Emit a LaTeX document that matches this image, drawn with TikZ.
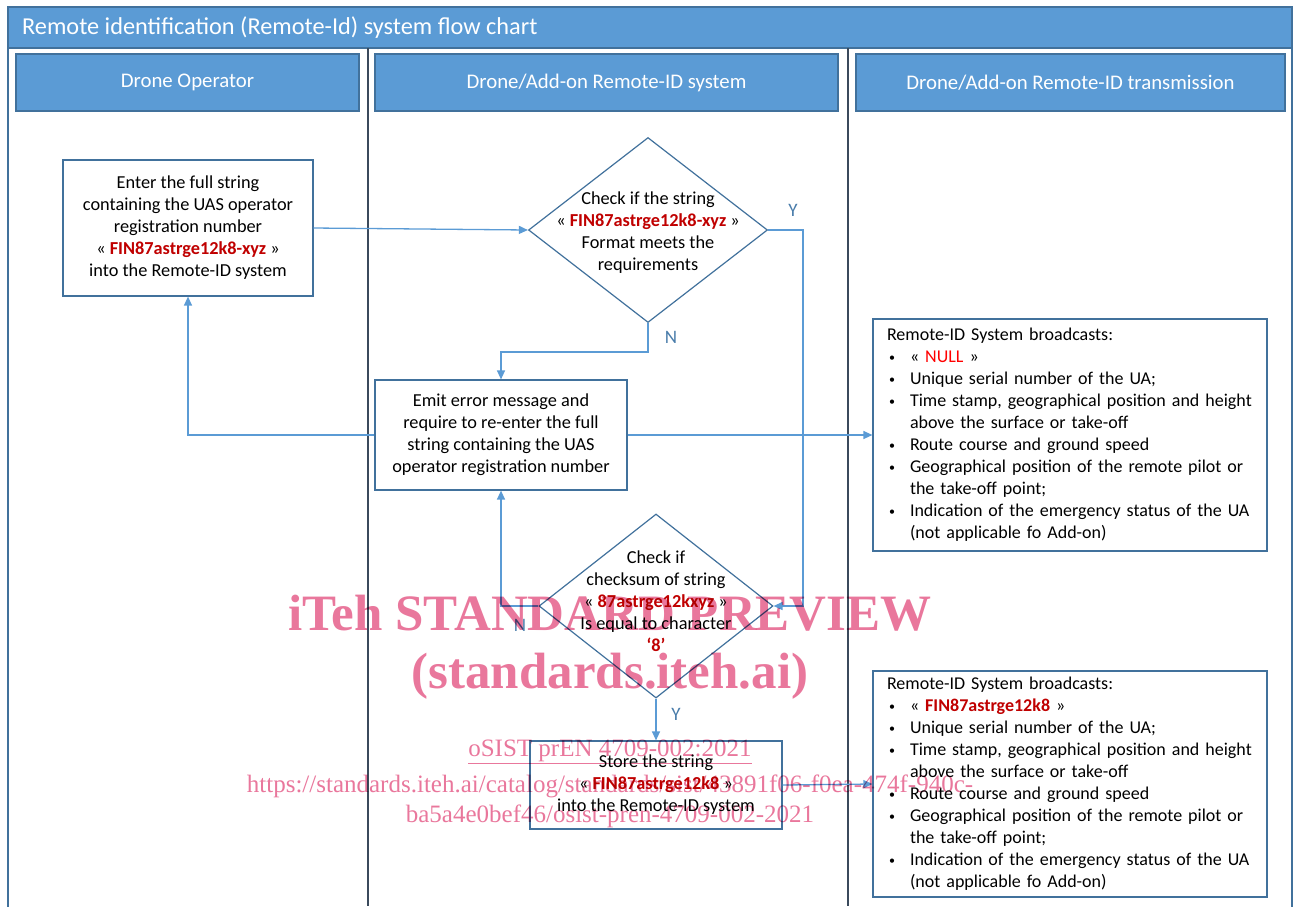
\documentclass[tikz,border=0pt]{standalone}
\usepackage{fontspec}
\setmainfont{Carlito}
\newfontfamily\wmfont{Liberation Serif}
\usetikzlibrary{shapes.geometric,arrows.meta}
\definecolor{hdrblue}{HTML}{5B9BD5}
\definecolor{edgeblue}{HTML}{41719C}
\definecolor{laneline}{HTML}{3B4A5C}
\definecolor{strred}{HTML}{C00000}
\definecolor{wmpink}{HTML}{E9779C}
\tikzstyle{hdr} = [draw=edgeblue, line width=1.2pt, fill=hdrblue, text=white, font=\fontsize{20.8}{24}\selectfont, minimum height=57pt, inner sep=0]
\tikzstyle{box} = [draw=edgeblue, line width=1.2pt, fill=white, align=center, font=\fontsize{18.3}{22}\selectfont, inner sep=0]
\tikzstyle{dec} = [box, diamond]
\tikzstyle{txt} = [align=center, font=\fontsize{18.3}{22}\selectfont, inner sep=0]
\tikzstyle{bcast} = [box, align=left, text width=366pt, inner xsep=14pt, font=\fontsize{18}{22}\selectfont]
\tikzstyle{flow} = [draw=hdrblue, line width=1.3pt, -{Triangle[length=9pt,width=8pt]}]
\tikzstyle{yn} = [text=hdrblue!80!black, font=\fontsize{19}{22}\selectfont]
\tikzstyle{wm} = [text=wmpink, align=center]
\newcommand{\regstr}[1]{\textcolor{strred}{\textbf{#1}}}
\newcommand{\bul}{\hspace*{2pt}\makebox[21pt][l]{\raisebox{1pt}{\fontsize{12}{12}\selectfont\textbullet}}}
\newcommand{\cont}{\hspace*{23pt}}

\begin{document}
\begin{tikzpicture}[x=1pt,y=-1pt]
    \useasboundingbox (0,0) rectangle (1295,906);
    \clip (0,0) rectangle (1295,906);
    % pool and lanes
    \fill[hdrblue] (8,7) rectangle (1292,48);
    \draw[edgeblue, line width=1.2pt] (8,7) rectangle (1292,915);
    \draw[edgeblue, line width=1.2pt] (8,48) -- (1292,48);
    \draw[laneline, line width=2pt] (368,48) -- (368,906);
    \draw[laneline, line width=2pt] (848,48) -- (848,906);
    \node[anchor=west, text=white, font=\fontsize{24.3}{28}\selectfont, inner sep=0] (title) at (22,28) {Remote identification (Remote-Id) system flow chart};
    \node[hdr, minimum width=343pt](h1) at (187.5,82.5){Drone Operator};
    \node[hdr, minimum width=463pt](h2) at (606.5,82.5){Drone/Add-on Remote-ID system};
    \node[hdr, minimum width=429pt](h3) at (1070.5,82.5){Drone/Add-on Remote-ID transmission};
    % steps
    \node[box, minimum width=250pt, minimum height=136pt](enter) at (188,228){Enter the full string\\containing the UAS operator\\registration number\\« \regstr{FIN87astrge12k8-xyz} »\\into the Remote-ID system};
    \node[dec, minimum width=239pt, minimum height=185pt](d1) at (648,230){};
    \node[txt](d1t) at (648,233){Check if the string\\« \regstr{FIN87astrge12k8-xyz} »\\Format meets the\\requirements};
    \node[box, minimum width=252pt, minimum height=110pt](emit) at (501,435){Emit error message and\\require to re-enter the full\\string containing the UAS\\operator registration number};
    \node[dec, minimum width=234pt, minimum height=184pt](d2) at (656,606){};
    \node[txt](d2t) at (656,601){Check if\\checksum of string\\« \regstr{87astrge12kxyz} »\\Is equal to character\\\regstr{‘8’}};
    \node[box, minimum width=252pt, minimum height=88pt](store) at (656,785){Store the string\\« \regstr{FIN87astrge12k8} »\\into the Remote-ID system};
    \node[bcast, minimum height=232pt](b1) at (1070,435){Remote-ID System broadcasts:\\
        \bul« \textcolor{red}{NULL} »\\
        \bul Unique serial number of the UA;\\
        \bul Time stamp, geographical position and height\\
        \cont above the surface or take-off\\
        \bul Route course and ground speed\\
        \bul Geographical position of the remote pilot or\\
        \cont the take-off point;\\
        \bul Indication of the emergency status of the UA\\
        \cont (not applicable fo Add-on)};
    \node[bcast, minimum height=226pt](b2) at (1070,784){Remote-ID System broadcasts:\\
        \bul« \regstr{FIN87astrge12k8} »\\
        \bul Unique serial number of the UA;\\
        \bul Time stamp, geographical position and height\\
        \cont above the surface or take-off\\
        \bul Route course and ground speed\\
        \bul Geographical position of the remote pilot or\\
        \cont the take-off point;\\
        \bul Indication of the emergency status of the UA\\
        \cont (not applicable fo Add-on)};
    % connectors
    \draw[flow](enter.east)--(d1.west);
    \draw[flow](d1.east)--++(35,0)|-(d2.east);
    \draw[flow](d1.south)--++(0,29)-|(emit.north);
    \draw[flow](emit.west)-|(enter.south);
    \draw[flow](emit.east)--(b1.west);
    \draw[flow](d2.west)-|(emit.south);
    \draw[flow](d2.south)--(store.north);
    \draw[flow](store.east)--(b2.west);
    \node[yn](y1) at (793,210){Y};
    \node[yn](n1) at (671,337){N};
    \node[yn](n2) at (520,625){N};
    \node[yn](y2) at (676,714){Y};
    % watermark
    \begin{scope}[blend mode=multiply]
    \node[wm, font=\wmfont\bfseries\fontsize{51}{60}\selectfont](wm1) at (610,613){iTeh STANDARD PREVIEW};
    \node[wm, font=\wmfont\bfseries\fontsize{51}{60}\selectfont](wm2) at (610,676){(standards.iteh.ai)};
    \node[wm, font=\wmfont\fontsize{25}{30}\selectfont](wm3) at (610,752){\underline{oSIST prEN 4709-002:2021}};
    \node[wm, font=\wmfont\fontsize{25}{30}\selectfont](wm4) at (610,786){https://standards.iteh.ai/catalog/standards/sist/43891f06-f0ea-474f-940c-};
    \node[wm, font=\wmfont\fontsize{25}{30}\selectfont](wm5) at (610,816){ba5a4e0bef46/osist-pren-4709-002-2021};
    \end{scope}
\end{tikzpicture}
\end{document}
